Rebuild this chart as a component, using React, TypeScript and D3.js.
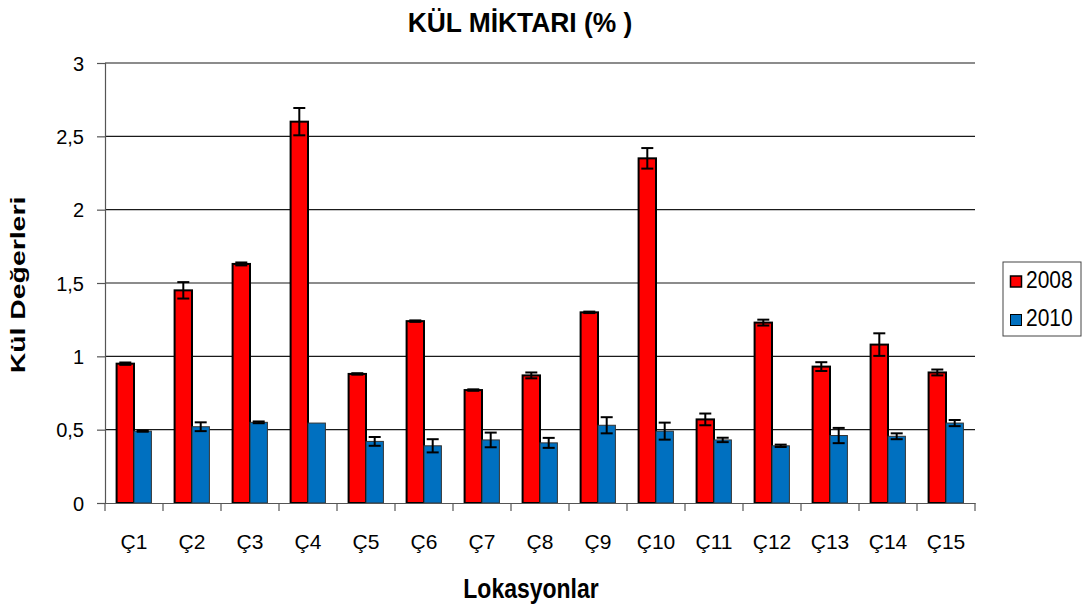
import React, { useEffect, useRef } from "react";
import * as d3 from "d3";

// data
const categories = ["Ç1", "Ç2", "Ç3", "Ç4", "Ç5", "Ç6", "Ç7", "Ç8", "Ç9", "Ç10", "Ç11", "Ç12", "Ç13", "Ç14", "Ç15"];
const years = ["2008", "2010"];
const values2008 = [0.95, 1.45, 1.63, 2.6, 0.88, 1.24, 0.77, 0.87, 1.3, 2.35, 0.57, 1.23, 0.93, 1.08, 0.89];
const errors2008 = [0.008, 0.056, 0.01, 0.093, 0.005, 0.005, 0.005, 0.02, 0.005, 0.07, 0.04, 0.02, 0.03, 0.077, 0.02];
const values2010 = [0.49, 0.52, 0.55, 0.545, 0.42, 0.39, 0.43, 0.41, 0.53, 0.49, 0.43, 0.39, 0.46, 0.455, 0.545];
const errors2010 = [0.004, 0.03, 0.006, 0, 0.03, 0.045, 0.05, 0.034, 0.055, 0.058, 0.015, 0.008, 0.052, 0.02, 0.021];
const yTicks = [0, 0.5, 1, 1.5, 2, 2.5, 3];
const colors = ["#ff0000", "#0070c0"];

const W = 1088;
const H = 607;
const margin = { left: 105, right: 113, top: 63, bottom: 104 };

const App = () => {
  const ref = useRef(null);

  useEffect(() => {
    const svg = d3.select(ref.current);
    svg.selectAll("*").remove();
    const font = "'Liberation Sans', Arial, sans-serif";

    const x = d3
      .scaleBand()
      .domain(categories)
      .range([margin.left, W - margin.right]);
    const y = d3
      .scaleLinear()
      .domain([0, 3])
      .range([H - margin.bottom, margin.top]);

    const bw = x.bandwidth();
    const barW = 17.4;
    const groupOff = (bw - barW * 2) / 2;

    // gridlines
    svg
      .append("g")
      .selectAll("line")
      .data(yTicks.filter((t) => t > 0))
      .enter()
      .append("line")
      .attr("x1", margin.left)
      .attr("x2", W - margin.right)
      .attr("y1", (d) => y(d))
      .attr("y2", (d) => y(d))
      .attr("stroke", "#1a1a1a")
      .attr("stroke-width", 1.2);

    const series = [
      { name: years[0], vals: values2008, errs: errors2008 },
      { name: years[1], vals: values2010, errs: errors2010 },
    ];

    series.forEach((s, si) => {
      const g = svg.append("g");
      g.selectAll("rect")
        .data(s.vals)
        .enter()
        .append("rect")
        .attr("x", (d, i) => x(categories[i]) + groupOff + si * barW)
        .attr("y", (d) => y(d))
        .attr("width", barW)
        .attr("height", (d) => y(0) - y(d))
        .attr("fill", colors[si])
        .attr("stroke", si === 0 ? "#000" : "#333")
        .attr("stroke-width", si === 0 ? 2 : 1);

      // error bars
      const eb = svg.append("g").attr("stroke", "#000").attr("stroke-width", 2);
      s.vals.forEach((v, i) => {
        const e = s.errs[i];
        if (e <= 0) return;
        const cx = x(categories[i]) + groupOff + si * barW + barW / 2;
        eb.append("line").attr("x1", cx).attr("x2", cx).attr("y1", y(v + e)).attr("y2", y(v - e));
        eb.append("line").attr("x1", cx - 6).attr("x2", cx + 6).attr("y1", y(v + e)).attr("y2", y(v + e));
        eb.append("line").attr("x1", cx - 6).attr("x2", cx + 6).attr("y1", y(v - e)).attr("y2", y(v - e));
      });
    });

    // y axis
    const yAxis = svg
      .append("g")
      .attr("transform", `translate(${margin.left},0)`)
      .call(d3.axisLeft(y).tickValues(yTicks).tickSize(8).tickFormat((d) => String(d).replace(".", ",")));
    yAxis.select(".domain").attr("stroke", "#555").attr("stroke-width", 1.2);
    yAxis.selectAll(".tick line").attr("stroke", "#555").attr("stroke-width", 1.2);
    yAxis
      .selectAll(".tick text")
      .attr("x", -21)
      .attr("dy", "0.36em")
      .attr("font-family", font)
      .attr("font-size", 20)
      .attr("fill", "#000");

    // x axis
    const xAxis = svg
      .append("g")
      .attr("transform", `translate(0,${y(0)})`)
      .call(d3.axisBottom(x).tickSize(0));
    xAxis.select(".domain").attr("stroke", "#555").attr("stroke-width", 1.2);
    xAxis
      .selectAll(".tick text")
      .attr("y", 46)
      .attr("dy", 0)
      .attr("font-family", font)
      .attr("font-size", 21)
      .attr("fill", "#000");
    xAxis
      .selectAll(".sep")
      .data(d3.range(categories.length + 1))
      .enter()
      .append("line")
      .attr("x1", (d) => margin.left + d * bw)
      .attr("x2", (d) => margin.left + d * bw)
      .attr("y1", 0)
      .attr("y2", 8)
      .attr("stroke", "#555")
      .attr("stroke-width", 1.2);

    // title & axis labels (slightly stretched, as in the picture)
    svg
      .append("text")
      .attr("transform", "translate(520,32) scale(1,1.06)")
      .attr("text-anchor", "middle")
      .attr("font-family", font)
      .attr("font-weight", "bold")
      .attr("font-size", 26.4)
      .text("KÜL MİKTARI (% )");
    svg
      .append("text")
      .attr("transform", "translate(25,285) rotate(-90) scale(1.42,1)")
      .attr("text-anchor", "middle")
      .attr("font-family", font)
      .attr("font-weight", "bold")
      .attr("font-size", 20)
      .text("Kül Değerleri");
    svg
      .append("text")
      .attr("transform", "translate(531,598) scale(1,1.18)")
      .attr("text-anchor", "middle")
      .attr("font-family", font)
      .attr("font-weight", "bold")
      .attr("font-size", 23)
      .text("Lokasyonlar");

    // legend
    const lg = svg.append("g");
    lg.append("rect")
      .attr("x", 1003)
      .attr("y", 262)
      .attr("width", 78)
      .attr("height", 74)
      .attr("fill", "#fff")
      .attr("stroke", "#444")
      .attr("stroke-width", 1);
    years.forEach((yr, i) => {
      const top = 276 + i * 38.5;
      lg.append("rect")
        .attr("x", 1010.5)
        .attr("y", top)
        .attr("width", 11)
        .attr("height", 11)
        .attr("fill", colors[i])
        .attr("stroke", "#000")
        .attr("stroke-width", i === 0 ? 1.5 : 1);
      lg.append("text")
        .attr("transform", `translate(1026,${top + 11.5}) scale(1,1.1)`)
        .attr("font-family", font)
        .attr("font-size", 21)
        .text(yr);
    });
  }, []);

  return (
    <svg
      ref={ref}
      width={W}
      height={H}
      style={{ position: "absolute", left: 0, top: 0, background: "#fff" }}
    ></svg>
  );
};

export default App;
